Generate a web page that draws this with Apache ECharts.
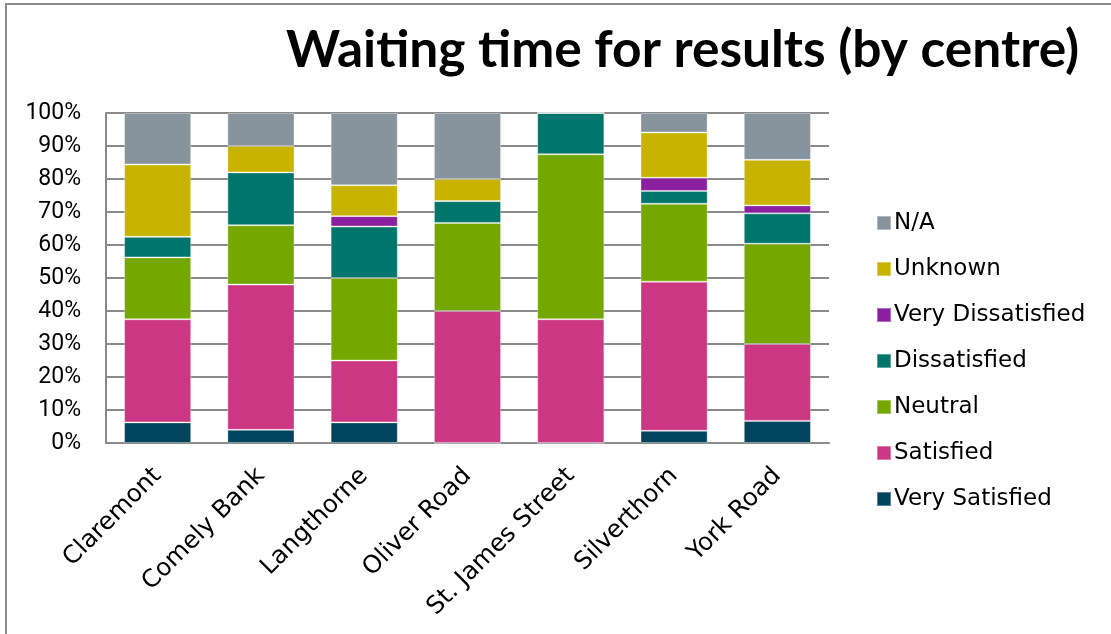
<!DOCTYPE html>
<html>
<head>
<meta charset="utf-8">
<script src="https://cdn.jsdelivr.net/npm/echarts@6/dist/echarts.min.js"></script>
<style>
html,body{margin:0;padding:0;background:#fff;}
#frame{position:absolute;left:5px;top:3px;width:1106px;height:631px;border-left:2px solid #8a8a8a;border-top:2px solid #8a8a8a;box-sizing:border-box;}
#chart{position:absolute;left:0;top:0;width:1111px;height:634px;}
</style>
</head>
<body>
<div id="frame"></div>
<div id="chart"></div>
<script>
const titleText = 'Waiting time for results (by centre)';
const categories = ['Claremont', 'Comely Bank', 'Langthorne', 'Oliver Road', 'St. James Street', 'Silverthorn', 'York Road'];
const yTicks = [0, 10, 20, 30, 40, 50, 60, 70, 80, 90, 100];

// percentages per centre
const verySatisfied     = [6.25, 4.0, 6.25, 0, 0, 3.7, 6.7];
const satisfied         = [31.25, 44.0, 18.75, 40.0, 37.5, 45.2, 23.3];
const neutral           = [18.75, 18.0, 25.0, 26.7, 50.0, 23.6, 30.4];
const dissatisfied      = [6.25, 16.0, 15.6, 6.6, 12.5, 3.9, 9.2];
const veryDissatisfied  = [0, 0, 3.15, 0, 0, 4.0, 2.4];
const unknown           = [21.9, 8.0, 9.35, 6.7, 0, 13.7, 13.8];
const na                = [15.6, 10.0, 21.9, 20.0, 0, 5.9, 14.2];

const seriesNames = ['Very Satisfied', 'Satisfied', 'Neutral', 'Dissatisfied', 'Very Dissatisfied', 'Unknown', 'N/A'];
const seriesData = [verySatisfied, satisfied, neutral, dissatisfied, veryDissatisfied, unknown, na];
const seriesColors = ['#00445e', '#cc3784', '#74a700', '#00756b', '#8a1f9f', '#c8b400', '#87939d'];

const chart = echarts.init(document.getElementById('chart'), null, {renderer: 'canvas'});
chart.setOption({
  animation: false,
  backgroundColor: 'transparent',
  title: {
    text: titleText,
    left: 281,
    top: 19,
    textStyle: {fontFamily: 'Lato', fontWeight: 'bold', fontSize: 51.5, color: '#000'}
  },
  legend: {
    orient: 'vertical',
    left: 871,
    top: 206,
    itemWidth: 14,
    itemHeight: 14,
    itemGap: 22,
    icon: 'rect',
    data: seriesNames.slice().reverse(),
    textStyle: {fontFamily: '"DejaVu Sans"', fontSize: 23, color: '#000', lineHeight: 24, padding: [0, 0, 0, -2]}
  },
  grid: {left: 106, right: 282, top: 113, bottom: 191},
  xAxis: {
    type: 'category',
    data: categories,
    axisTick: {show: false},
    axisLine: {show: true, lineStyle: {color: '#8a8a8a', width: 2}},
    axisLabel: {rotate: 45, margin: 29, interval: 0, fontFamily: '"DejaVu Sans"', fontSize: 24.5, color: '#000'}
  },
  yAxis: {
    type: 'value',
    min: 0,
    max: 100,
    interval: 10,
    axisLine: {show: true, lineStyle: {color: '#8a8a8a', width: 2}},
    axisTick: {show: false},
    splitLine: {show: true, lineStyle: {color: '#8a8a8a', width: 2}},
    axisLabel: {margin: 25, fontFamily: 'Roboto', fontSize: 23, color: '#000',
      formatter: function (v) { return yTicks.indexOf(v) >= 0 ? v + '%' : ''; }}
  },
  series: seriesNames.map(function (name, i) {
    return {
      name: name,
      type: 'bar',
      stack: 'total',
      barWidth: '65%',
      data: seriesData[i],
      itemStyle: {color: seriesColors[i], borderColor: 'rgba(255,255,255,0.35)', borderWidth: 1}
    };
  })
});
</script>
</body>
</html>
